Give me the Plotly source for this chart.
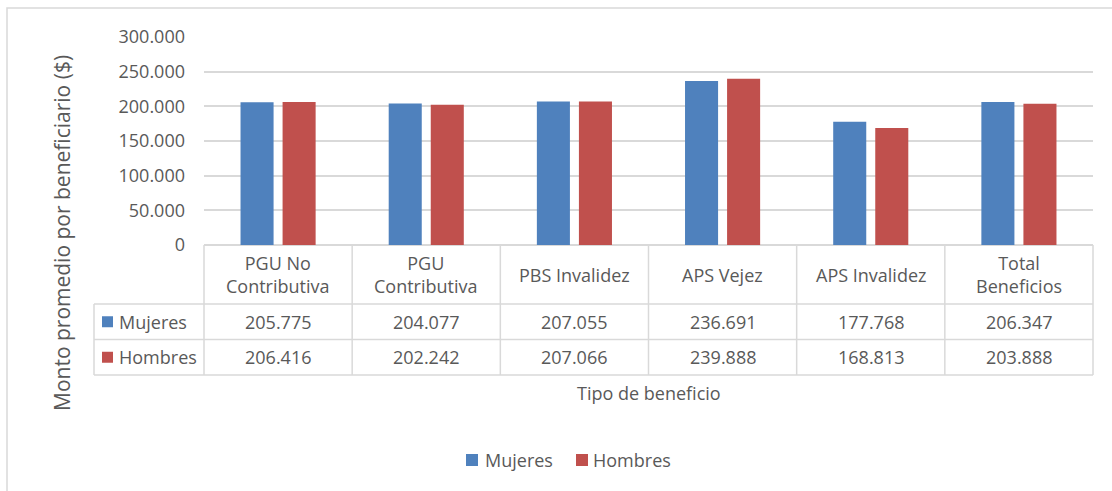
import plotly.graph_objects as go

categories = ["PGU No<br>Contributiva", "PGU<br>Contributiva", "PBS Invalidez",
              "APS Vejez", "APS Invalidez", "Total<br>Beneficios"]
series_names = ["Mujeres", "Hombres"]
mujeres = [205775, 204077, 207055, 236691, 177768, 206347]
hombres = [206416, 202242, 207066, 239888, 168813, 203888]
colors = ["#4F81BD", "#C0504D"]
y_ticks = [0, 50000, 100000, 150000, 200000, 250000, 300000]

W, H = 1112, 491
L, R, T, B = 204, 1093, 37, 245  # plot area in pixels
PW, PH = R - L, B - T


def px(X):
    return (X - L) / PW


def py(Y):
    return (B - Y) / PH


FONT = "Open Sans"
TXT = "#595959"
GRID = "#D9D9D9"

fig = go.Figure()
for name, vals, col in zip(series_names, [mujeres, hombres], colors):
    fig.add_trace(go.Bar(x=categories, y=vals, name=name, marker_color=col,
                         marker_line_width=0, showlegend=False))

n = len(categories)
shapes = []
annotations = []

# table rows (pixel y)
y_head_top, y_head_bot, y_r1, y_r2 = 245, 304, 339.5, 375
x_leg_left = 94

line = dict(color=GRID, width=1.5)
for yy in [y_head_bot, y_r1, y_r2]:
    shapes.append(dict(type="line", xref="paper", yref="paper",
                       x0=px(x_leg_left), x1=1, y0=py(yy), y1=py(yy), line=line))
for i in range(n + 1):
    xx = i / n
    shapes.append(dict(type="line", xref="paper", yref="paper",
                       x0=xx, x1=xx, y0=py(y_head_top), y1=py(y_r2), line=line))
shapes.append(dict(type="line", xref="paper", yref="paper",
                   x0=px(x_leg_left), x1=px(x_leg_left),
                   y0=py(y_head_bot), y1=py(y_r2), line=line))

# outer chart border
shapes.append(dict(type="rect", xref="paper", yref="paper",
                   x0=px(7), x1=px(1140), y0=py(8), y1=py(520),
                   line=dict(color=GRID, width=1.5), layer="below"))

# header category labels
for c in categories:
    annotations.append(dict(x=c, xref="x", y=py((y_head_top + y_head_bot) / 2),
                            yref="paper", text=c, showarrow=False,
                            font=dict(family=FONT, size=18, color=TXT),
                            xanchor="center", yanchor="middle"))


def fmt(v):
    return f"{v:,}".replace(",", ".")


for row_vals, (ya, yb), name, col in zip([mujeres, hombres],
                                         [(y_head_bot, y_r1), (y_r1, y_r2)],
                                         series_names, colors):
    yc = (ya + yb) / 2
    for c, v in zip(categories, row_vals):
        annotations.append(dict(x=c, xref="x", y=py(yc), yref="paper",
                                text=fmt(v), showarrow=False,
                                font=dict(family=FONT, size=18, color=TXT),
                                xanchor="center", yanchor="middle"))
    shapes.append(dict(type="rect", xref="paper", yref="paper",
                       x0=px(102), x1=px(113), y0=py(yc - 5.5), y1=py(yc + 5.5),
                       fillcolor=col, line=dict(width=0)))
    annotations.append(dict(x=px(117), xref="paper", y=py(yc), yref="paper",
                            text=name, showarrow=False,
                            font=dict(family=FONT, size=18, color=TXT),
                            xanchor="left", yanchor="middle"))

# bottom legend
leg_sq_x = [466, 576]
leg_txt_x = [483, 591]
for name, col, sx, tx in zip(series_names, colors, leg_sq_x, leg_txt_x):
    shapes.append(dict(type="rect", xref="paper", yref="paper",
                       x0=px(sx), x1=px(sx + 12), y0=py(454), y1=py(466),
                       fillcolor=col, line=dict(width=0)))
    annotations.append(dict(x=px(tx), xref="paper", y=py(460), yref="paper",
                            text=name, showarrow=False,
                            font=dict(family=FONT, size=18, color=TXT),
                            xanchor="left", yanchor="middle"))

# axis titles
annotations.append(dict(x=0.5, xref="paper", y=py(393), yref="paper",
                        text="Tipo de beneficio", showarrow=False,
                        font=dict(family=FONT, size=18, color=TXT),
                        xanchor="center", yanchor="middle"))
annotations.append(dict(x=px(62), xref="paper", y=py(233), yref="paper",
                        text="Monto promedio por beneficiario ($)", showarrow=False,
                        textangle=-90,
                        font=dict(family=FONT, size=21, color=TXT),
                        xanchor="center", yanchor="middle"))

fig.update_layout(
    width=W, height=H,
    margin=dict(l=L, r=W - R, t=T, b=H - B, pad=0),
    paper_bgcolor="white", plot_bgcolor="white",
    separators=",.",
    barmode="group", bargap=0.4324, bargroupgap=0.214,
    font=dict(family=FONT, size=18, color=TXT),
    xaxis=dict(range=[-0.5, n - 0.5], showticklabels=False, showgrid=False,
               zeroline=False, showline=False, ticks=""),
    yaxis=dict(range=[0, 300000], tickvals=y_ticks, tickformat=",.0f",
               showgrid=True, gridcolor=GRID, gridwidth=1.5,
               zeroline=True, zerolinecolor=GRID, zerolinewidth=1.5,
               showline=False, ticks="", ticklabelstandoff=18,
               tickfont=dict(family=FONT, size=18, color=TXT)),
    showlegend=False,
    shapes=shapes,
    annotations=annotations,
)

fig.write_html("out.html",
               config={"displayModeBar": False},
               post_script="document.body.style.margin='0';"
                           "document.body.style.overflow='hidden';")
